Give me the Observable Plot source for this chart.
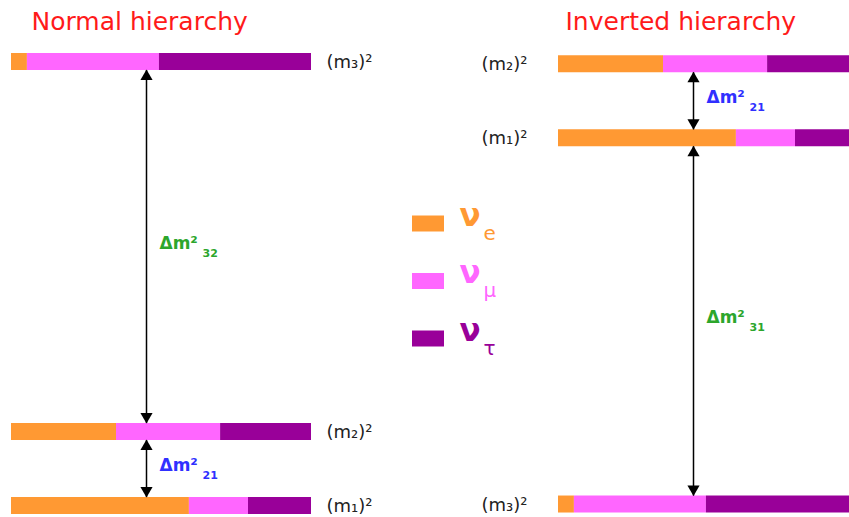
<!DOCTYPE html>
<html><head><meta charset="utf-8">
<script src="https://cdn.jsdelivr.net/npm/d3@7"></script>
<script src="https://cdn.jsdelivr.net/npm/@observablehq/plot@0.6"></script>
<style>
body{margin:0;overflow:hidden;background:#fff}
#chart{width:849px;height:517px;overflow:hidden}
</style>
</head><body><div id="chart"></div>
<script>
// ---- data ----
const hierarchies = ["Normal hierarchy", "Inverted hierarchy"];
const levels = ["1", "2", "3"];               // m1, m2, m3
const normalY = [0, 1, 6];                    // schematic m² of m1, m2, m3
const invertedY = [4.97, 5.97, 0.02];
const fracE = [0.593, 0.35, 0.053];           // νe content of m1, m2, m3
const fracMu = [0.197, 0.347, 0.44];          // νμ content
const fracTau = [0.21, 0.303, 0.507];         // ντ content
const flavors = ["e", "μ", "τ"];
const flavorColors = ["#ff9933", "#ff66ff", "#990099"];
const splitHier = [0, 0, 1, 1];
const splitFrom = ["1", "2", "1", "3"];
const splitTo = ["2", "3", "2", "1"];
const splitSub = ["21", "32", "21", "31"];
const splitColors = ["#3030ff", "#2ca62c", "#3030ff", "#2ca62c"];

// ---- layout ----
const W = 849, H = 517;
const xS = d3.scaleLinear([0, 1], [11, 311]);
const yS = d3.scaleLinear([0, 6], [505, 61]);
const panelOffset = [0, xS.invert(558)];
const arrowX = 0.45;
const titleX = [31, 565];
const FONT = "DejaVu Sans";

const levelY = [normalY, invertedY];
const fracs = [fracE, fracMu, fracTau];
const segments = [];
hierarchies.forEach((h, hi) => {
  levels.forEach((l, li) => {
    let c = 0;
    flavors.forEach((f, fi) => {
      const v = fracs[fi][li];
      segments.push({y: levelY[hi][li], x1: panelOffset[hi] + c, x2: panelOffset[hi] + c + v, color: flavorColors[fi]});
      c += v;
    });
  });
});
const subDigits = {"1": "₁", "2": "₂", "3": "₃"};
const levelLabels = [];
hierarchies.forEach((h, hi) => levels.forEach((l, li) => levelLabels.push({hi, y: levelY[hi][li], x: panelOffset[hi], text: `(m${subDigits[l]})²`})));

const arrows = splitSub.map((s, i) => {
  const hi = splitHier[i];
  const a = levelY[hi][levels.indexOf(splitFrom[i])], b = levelY[hi][levels.indexOf(splitTo[i])];
  return {x: panelOffset[hi] + arrowX, lo: Math.min(a, b), hi: Math.max(a, b), sub: s, color: splitColors[i]};
});

const legend = flavors.map((f, i) => ({f, color: flavorColors[i], y: yS.invert(223 + i * 57.5)}));

const chart = Plot.plot({
  width: W, height: H,
  marginLeft: 0, marginRight: 0, marginTop: 0, marginBottom: 0,
  x: {domain: xS.domain(), range: xS.range(), axis: null},
  y: {domain: yS.domain(), range: yS.range(), axis: null},
  color: {type: "identity"},
  style: {fontFamily: FONT, background: "white"},
  marks: [
    // titles
    Plot.text(hierarchies, {x: (d, i) => xS.invert(titleX[i]), y: yS.invert(29), text: d => d, textAnchor: "start", lineAnchor: "bottom", fill: "#ff1a1a", fontSize: 25}),
    // arrow shafts
    Plot.ruleX(arrows, {x: "x", y1: "lo", y2: "hi", stroke: "black", strokeWidth: 1.5}),
    // level bars
    Plot.ruleY(segments, {x1: "x1", x2: "x2", y: "y", stroke: "color", strokeWidth: 17, clip: true}),
    // arrow heads
    Plot.dot(arrows, {x: "x", y: "hi", symbol: "triangle2", r: 5.8, fill: "black", stroke: "none", dy: 15}),
    Plot.dot(arrows, {x: "x", y: "lo", symbol: "triangle2", r: 5.8, fill: "black", stroke: "none", rotate: 180, dy: -15}),
    // level labels
    Plot.text(levelLabels.filter(d => d.hi === 0), {x: d => d.x + 1, y: "y", text: "text", textAnchor: "start", lineAnchor: "middle", dx: 15, dy: 1, fontSize: 18, fill: "#222"}),
    Plot.text(levelLabels.filter(d => d.hi === 1), {x: "x", y: "y", text: "text", textAnchor: "end", lineAnchor: "middle", dx: -31, dy: 1, fontSize: 18, fill: "#222"}),
    // splitting labels
    Plot.text(arrows, {x: "x", y: d => (d.lo + d.hi) / 2, text: () => "Δm²", fill: "color", fontWeight: "bold", fontSize: 17, textAnchor: "start", lineAnchor: "bottom", dx: 13, dy: 2}),
    Plot.text(arrows, {x: "x", y: d => (d.lo + d.hi) / 2, text: "sub", fill: "color", fontWeight: "bold", fontSize: 11, textAnchor: "start", lineAnchor: "bottom", dx: 56, dy: 10}),
    // legend
    Plot.ruleY(legend, {x1: xS.invert(412), x2: xS.invert(444), y: "y", stroke: "color", strokeWidth: 16}),
    Plot.text(legend, {x: xS.invert(459), y: "y", text: () => "ν", fill: "color", fontSize: 31, fontWeight: "bold", textAnchor: "start", lineAnchor: "bottom", dy: 2}),
    Plot.text(legend, {x: xS.invert(459), y: "y", text: "f", fill: "color", fontSize: 20, fontWeight: d => d.f === "e" ? "bold" : "normal", textAnchor: "start", lineAnchor: "bottom", dx: 24, dy: 16})
  ]
});
document.getElementById("chart").appendChild(chart);
</script>
</body></html>
